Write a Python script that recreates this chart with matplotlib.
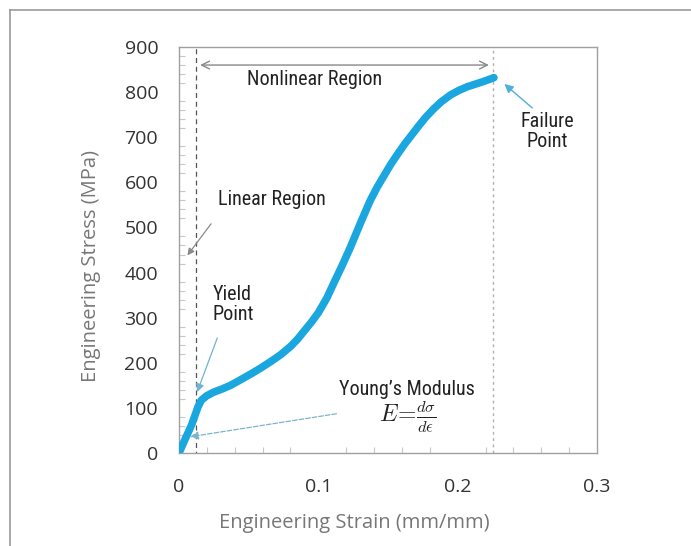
import matplotlib
matplotlib.use("Agg")
import matplotlib.pyplot as plt
from matplotlib import font_manager
from matplotlib.lines import Line2D
from matplotlib.ticker import MultipleLocator

# stress-strain curve
strain = [0, 0.004, 0.009, 0.0136, 0.016, 0.020, 0.025, 0.031, 0.037, 0.044,
          0.052, 0.059, 0.066, 0.073, 0.080, 0.085, 0.090, 0.095, 0.100, 0.106,
          0.111, 0.117, 0.123, 0.130, 0.137, 0.142, 0.147, 0.152, 0.157, 0.162,
          0.167, 0.172, 0.177, 0.1825, 0.188, 0.195, 0.201, 0.207, 0.213, 0.218,
          0.226]
stress = [0, 28, 62, 102, 117, 127, 135, 142, 150, 162,
          176, 189, 203, 218, 236, 252, 271, 290, 311, 343,
          376, 415, 456, 508, 558, 588, 614, 640, 663, 685,
          705, 725, 744, 762, 778, 794, 804, 812, 818, 823,
          832]

yield_strain = 0.0122
failure_strain = 0.2254
x_ticks = [0, 0.1, 0.2, 0.3]
x_tick_labels = ["0", "0.1", "0.2", "0.3"]
y_ticks = [0, 100, 200, 300, 400, 500, 600, 700, 800, 900]


def pick_font(names):
    for name in names:
        try:
            font_manager.findfont(name, fallback_to_default=False)
            return name
        except Exception:
            continue
    return "DejaVu Sans"


note_font = pick_font(["Liberation Sans Narrow", "Roboto Condensed", "Roboto"])
tick_font = pick_font(["Open Sans", "Noto Sans", "DejaVu Sans"])
label_font = pick_font(["Open Sans", "Noto Sans", "DejaVu Sans"])
plt.rcParams["mathtext.fontset"] = "cm"

W, H = 691, 546
fig = plt.figure(figsize=(W / 100, H / 100), dpi=100)

# outer frame (left and top edges only)
frame = "#9a9a9a"
fig.add_artist(Line2D([10 / W, 10 / W], [0, 1 - 10 / H], color=frame, lw=1.2,
                      transform=fig.transFigure))
fig.add_artist(Line2D([10 / W, 1], [1 - 10 / H, 1 - 10 / H], color=frame, lw=1.2,
                      transform=fig.transFigure))

ax = fig.add_axes([179 / W, 1 - 453 / H, (597 - 179) / W, (453 - 47) / H])
ax.set_xlim(0, 0.3)
ax.set_ylim(0, 900)

for sp in ax.spines.values():
    sp.set_color("#a0a0a0")
    sp.set_linewidth(1.0)

ax.set_xticks(x_ticks)
ax.set_xticklabels(x_tick_labels)
ax.set_yticks(y_ticks)
ax.xaxis.set_minor_locator(MultipleLocator(0.02))
ax.yaxis.set_minor_locator(MultipleLocator(20))
ax.tick_params(which="major", length=0, pad=15, labelsize=14, labelcolor="#333333")
ax.tick_params(axis="x", which="major", pad=18)
ax.tick_params(which="minor", direction="in", length=4, color="#c8c8c8", width=0.8)
for lab in ax.get_xticklabels() + ax.get_yticklabels():
    lab.set_fontfamily(tick_font)

ax.set_xlabel("Engineering Strain (mm/mm)", fontsize=14.5, color="#777777",
              fontfamily=label_font)
ax.set_ylabel("Engineering Stress (MPa)", fontsize=14.5, color="#777777",
              fontfamily=label_font)
ax.xaxis.set_label_coords(0.42, -0.148)
ax.yaxis.set_label_coords(-0.187, 0.46)

# region boundaries
ax.axvline(yield_strain, color="#555555", lw=0.9, ls=(0, (4, 3)), ymin=-0.03)
ax.axvline(failure_strain, color="#b0b0b0", lw=1.0, ls=(0, (2, 2.5)))

ax.plot(strain, stress, color="#1aa6de", lw=5.5, solid_capstyle="round",
        solid_joinstyle="round", zorder=3)

ax.annotate("", xy=(yield_strain + 0.001, 860), xytext=(failure_strain - 0.001, 860),
            arrowprops=dict(arrowstyle="<->", color="#888888", lw=1.0,
                            mutation_scale=14))

note = dict(fontfamily=note_font, fontsize=14.5, color="#222222")
ax.text(0.097, 828, "Nonlinear Region", ha="center", va="center", **note)
ax.text(0.0665, 563, "Linear Region", ha="center", va="center", **note)
ax.text(0.024, 330, "Yield\nPoint", ha="left", va="center", linespacing=1.05, **note)
ax.text(0.264, 712, "Failure\nPoint", ha="center", va="center", linespacing=1.05, **note)
ax.text(0.1635, 140, "Young\u2019s Modulus", ha="center", va="center", **note)
ax.text(0.164, 80, r"$E\!=\!\frac{d\sigma}{d\epsilon}$", ha="center", va="center",
        fontsize=17, color="#222222")

ax.annotate("", xy=(0.006, 438), xytext=(0.023, 508),
            arrowprops=dict(arrowstyle="-|>", color="#8a8a8a", lw=0.9,
                            mutation_scale=10, shrinkA=0, shrinkB=0))
ax.annotate("", xy=(0.013, 135), xytext=(0.0275, 255),
            arrowprops=dict(arrowstyle="-|>", color="#6fb4d2", lw=0.9,
                            mutation_scale=12, shrinkA=0, shrinkB=0))
ax.annotate("", xy=(0.008, 36), xytext=(0.113, 87),
            arrowprops=dict(arrowstyle="-|>", color="#7ab4cc", lw=0.9, ls="--",
                            mutation_scale=12, shrinkA=0, shrinkB=0))
ax.annotate("", xy=(0.2335, 818), xytext=(0.2535, 765),
            arrowprops=dict(arrowstyle="-|>", color="#4fb0da", lw=1.0,
                            mutation_scale=13, shrinkA=0, shrinkB=0))

fig.savefig("out.png", dpi=100)
